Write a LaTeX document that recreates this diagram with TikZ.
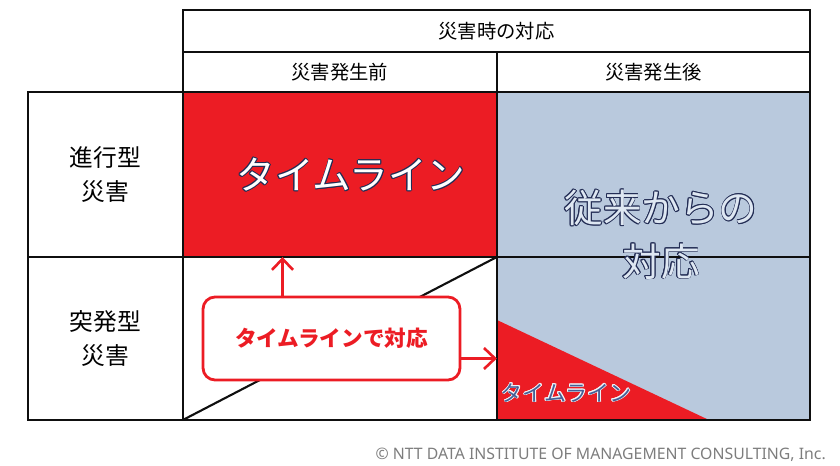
\documentclass[tikz,border=0pt]{standalone}
\usepackage{fontspec}
\setmainfont{Noto Sans}
\newfontfamily\jp{Noto Sans CJK JP}
\usepackage{contour}
\usetikzlibrary{positioning,calc,arrows.meta}
\definecolor{tlred}{RGB}{236,28,36}
\definecolor{oldblue}{RGB}{185,201,221}
\definecolor{oldlight}{RGB}{222,231,242}
\definecolor{gridblack}{RGB}{15,15,15}
\definecolor{outlinenavy}{RGB}{35,45,85}
\definecolor{smallblue}{RGB}{70,95,150}
\definecolor{creditgray}{RGB}{125,125,125}
\contourlength{0.5pt}
\contournumber{12}

\begin{document}
\begin{tikzpicture}[
    x=0.02cm, y=-0.02cm,
    cell/.style={rectangle, draw=gridblack, line width=1.2pt, inner sep=0pt, outer sep=0pt, anchor=north west, align=center, font=\jp},
    head/.style={cell, minimum height=0.8cm, font=\jp\fontsize{11}{13}\selectfont},
    kind/.style={cell, minimum width=3.1cm, font=\jp\fontsize{13.5}{19.5}\selectfont},
    bigtext/.style={align=center, font=\jp\fontsize{22}{30.5}\selectfont},
    callout/.style={rectangle, draw=tlred, line width=1.6pt, rounded corners=0.24cm, fill=white, minimum width=5.14cm, minimum height=1.66cm, font=\jp\bfseries\fontsize{12.3}{14}\selectfont, text=tlred},
    arrow/.style={-{Straight Barb[length=2.2mm, width=4.2mm, line width=1.5pt]}, line width=1.5pt, draw=tlred}
]
\useasboundingbox (0,0) rectangle (840,466);

% Header rows
\node[head, minimum width=12.54cm, minimum height=0.84cm] (hdr) at (183,10) {災害時の対応};
\node[head, minimum width=6.28cm] (before) at (hdr.south west) {災害発生前};
\node[head, minimum width=6.26cm] (after) at (before.north east) {災害発生後};

% Row labels
\node[kind, minimum height=3.3cm] (prog) at (28,92) {進行型\\災害};
\node[kind, minimum height=3.26cm] (sudden) at (prog.south west) {突発型\\災害};

% Body cells
\node[cell, fill=tlred, minimum width=6.28cm, minimum height=3.3cm] (tl) at (prog.north east) {};
\node[cell, minimum width=6.28cm, minimum height=3.26cm,
    path picture={\draw[gridblack, line width=1.2pt] (path picture bounding box.south west) -- (path picture bounding box.north east);}] (mix) at (tl.south west) {};
\node[cell, fill=oldblue, minimum width=6.26cm, minimum height=3.3cm] (old1) at (tl.north east) {};
\node[cell, fill=oldblue, minimum width=6.26cm, minimum height=3.26cm,
    path picture={\fill[tlred] (path picture bounding box.south west) -- ++(0,2cm) -- ++(4.24cm,-2cm) -- cycle;}] (old2) at (mix.north east) {};

% Cell texts
\node[bigtext] (tlbig) at (351,175) {\contour{outlinenavy}{\textcolor{white}{タイムライン}}};
\node[bigtext] (oldtext) at (661,235) {\contour{outlinenavy}{\textcolor{oldlight}{従来からの}}\\\contour{outlinenavy}{\textcolor{oldlight}{対応}}};
\node[font=\jp\fontsize{12.5}{14}\selectfont] (tlsmall) at (566,393) {\contour{white!80!oldblue}{\textcolor{smallblue}{タイムライン}}};

% Callout and arrows
\node[callout] (box) at (331.5,338.5) {タイムラインで対応};
\draw[arrow] ([xshift=-0.98cm]box.north) -- ([xshift=-0.98cm]box.north |- tl.south);
\draw[arrow] ([yshift=-0.4cm]box.east) -- ([yshift=-0.4cm]box.east -| old2.west);

% Credit
\node[font=\fontsize{9}{11}\selectfont, text=creditgray, anchor=east] (credit) at (832,455) {© NTT DATA INSTITUTE OF MANAGEMENT CONSULTING, Inc.};
\end{tikzpicture}
\end{document}
